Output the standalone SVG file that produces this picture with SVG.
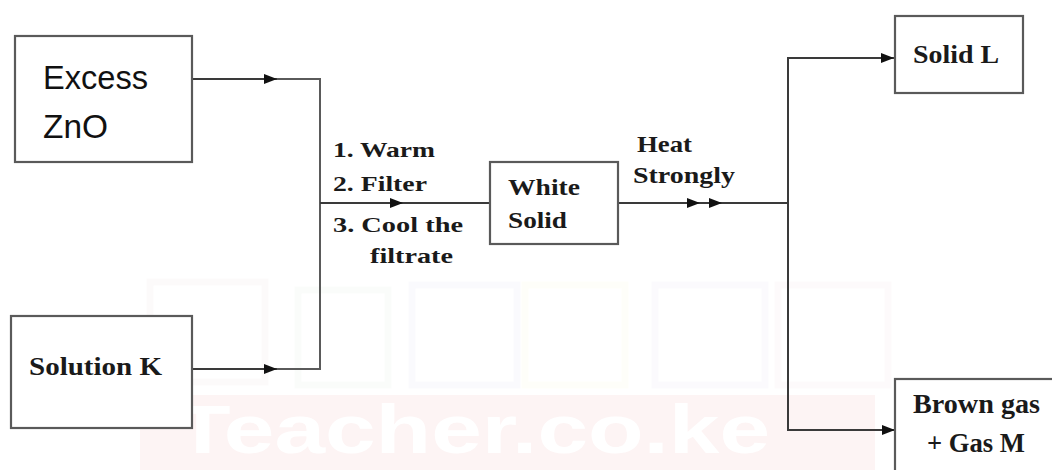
<svg xmlns="http://www.w3.org/2000/svg" width="1052" height="470" viewBox="0 0 1052 470">
<style>
.box{fill:#fff;stroke:#5a5a5a;stroke-width:2.2}
.ln{fill:none;stroke:#3a3a3a;stroke-width:2}
.lt{fill:none;stroke:#5a5a5a;stroke-width:2}
.sb{font-family:"Liberation Serif","Times New Roman",serif;font-weight:bold;fill:#1a1a1a}
.sn{font-family:"Liberation Sans",Arial,sans-serif;fill:#111}
.wm{fill:none;stroke-width:7;opacity:0.3}
</style>
<defs>
<marker id="ah" markerUnits="userSpaceOnUse" markerWidth="13" markerHeight="10" refX="13" refY="5" orient="auto">
<path d="M0,0 L13,5 L0,10 z" fill="#111"/>
</marker>
</defs>
<rect width="1052" height="470" fill="#fff"/>
<g id="watermark">
<rect x="140" y="395" width="735" height="75" fill="#fdf4f4"/>
<rect x="150" y="282" width="115" height="100" stroke="#f5eeee" class="wm"/>
<rect x="298" y="290" width="90" height="95" stroke="#eef6f0" class="wm"/>
<rect x="412" y="285" width="105" height="100" stroke="#eeeef8" class="wm"/>
<rect x="525" y="285" width="100" height="100" stroke="#fbfbea" class="wm"/>
<rect x="655" y="285" width="110" height="100" stroke="#f2eff8" class="wm"/>
<rect x="778" y="285" width="110" height="100" stroke="#f9eef3" class="wm"/>
<text x="175" y="453" font-family="Liberation Sans,Arial,sans-serif" font-weight="bold" font-size="68" fill="#ffffff" textLength="595" lengthAdjust="spacingAndGlyphs">Teacher.co.ke</text>
</g>
<g id="connectors">
<path class="ln" d="M192,79 H277" marker-end="url(#ah)"/>
<path class="lt" d="M277,79 H320 V369 H277"/>
<path class="ln" d="M192,369 H277" marker-end="url(#ah)"/>
<path class="ln" d="M320,203 H403" marker-end="url(#ah)"/>
<path class="ln" d="M403,203 H490"/>
<path class="ln" d="M618,203 H700" marker-end="url(#ah)"/>
<path class="ln" d="M700,203 H722" marker-end="url(#ah)"/>
<path class="ln" d="M722,203 H788"/>
<path class="ln" d="M788,203 V58 H894" marker-end="url(#ah)"/>
<path class="ln" d="M788,203 V430 H895" marker-end="url(#ah)"/>
</g>
<g id="labels">
<text class="sb" x="333" y="157" font-size="22" textLength="102" lengthAdjust="spacingAndGlyphs">1. Warm</text>
<text class="sb" x="333" y="191" font-size="22" textLength="94" lengthAdjust="spacingAndGlyphs">2. Filter</text>
<text class="sb" x="333" y="232" font-size="22" textLength="130" lengthAdjust="spacingAndGlyphs">3. Cool the</text>
<text class="sb" x="370" y="263" font-size="22" textLength="83" lengthAdjust="spacingAndGlyphs">filtrate</text>
<text class="sb" x="637" y="152" font-size="24" textLength="55" lengthAdjust="spacingAndGlyphs">Heat</text>
<text class="sb" x="633" y="183" font-size="24" textLength="102" lengthAdjust="spacingAndGlyphs">Strongly</text>
</g>
<g id="excess-zno">
<rect class="box" x="15" y="36" width="177" height="126"/>
<text class="sn" x="43" y="89" font-size="33" textLength="105" lengthAdjust="spacingAndGlyphs">Excess</text>
<text class="sn" x="43" y="138" font-size="33" textLength="65" lengthAdjust="spacingAndGlyphs">ZnO</text>
</g>
<g id="solution-k">
<rect class="box" x="11" y="316" width="181" height="112"/>
<text class="sb" x="29" y="375" font-size="25" textLength="133" lengthAdjust="spacingAndGlyphs">Solution  K</text>
</g>
<g id="white-solid">
<rect class="box" x="490" y="162" width="128" height="82"/>
<text class="sb" x="508" y="195" font-size="24" textLength="72" lengthAdjust="spacingAndGlyphs">White</text>
<text class="sb" x="508" y="228" font-size="24" textLength="59" lengthAdjust="spacingAndGlyphs">Solid</text>
</g>
<g id="solid-l">
<rect class="box" x="895" y="16" width="128" height="77"/>
<text class="sb" x="913" y="63" font-size="26" textLength="86" lengthAdjust="spacingAndGlyphs">Solid L</text>
</g>
<g id="brown-gas">
<rect class="box" x="895" y="379" width="170" height="110"/>
<text class="sb" x="913" y="413" font-size="27" textLength="127" lengthAdjust="spacingAndGlyphs">Brown gas</text>
<text class="sb" x="927" y="452" font-size="27" textLength="98" lengthAdjust="spacingAndGlyphs">+ Gas M</text>
</g>
</svg>
